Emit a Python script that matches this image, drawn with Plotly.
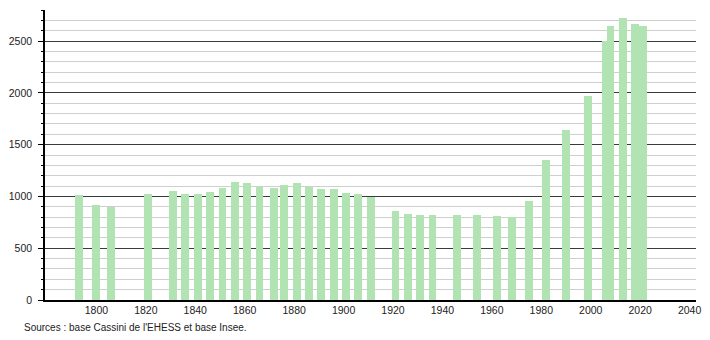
import plotly.graph_objects as go

years = [1793, 1800, 1806, 1821, 1831, 1836, 1841, 1846, 1851, 1856, 1861, 1866,
         1872, 1876, 1881, 1886, 1891, 1896, 1901, 1906, 1911, 1921, 1926, 1931,
         1936, 1946, 1954, 1962, 1968, 1975, 1982, 1990, 1999, 2006, 2008, 2013,
         2018, 2021]
population = [1010, 915, 900, 1019, 1051, 1022, 1026, 1039, 1078, 1136, 1133, 1094,
              1078, 1110, 1126, 1094, 1068, 1068, 1029, 1019, 990, 864, 835, 816,
              825, 825, 825, 809, 806, 954, 1352, 1641, 1971, 2500, 2648, 2718,
              2662, 2650]
x_ticks = [1800, 1820, 1840, 1860, 1880, 1900, 1920, 1940, 1960, 1980, 2000, 2020, 2040]
y_ticks = [0, 500, 1000, 1500, 2000, 2500]
source_text = "Sources : base Cassini de l'EHESS et base Insee."

FONT = "Liberation Sans, Arial, sans-serif"

fig = go.Figure()
fig.add_trace(go.Bar(
    x=years, y=population, width=3.2,
    marker=dict(color="rgb(178,227,178)", line=dict(width=0)),
    hoverinfo="x+y",
))

fig.update_layout(
    width=710, height=340,
    margin=dict(l=43, r=9, t=10, b=40),
    paper_bgcolor="white", plot_bgcolor="white",
    showlegend=False,
    font=dict(family=FONT, size=10, color="#222"),
    xaxis=dict(
        range=[1779.2, 2042.6],
        tickvals=x_ticks, ticktext=[str(v) for v in x_ticks],
        showgrid=False, zeroline=False,
        showline=True, linecolor="black", linewidth=1.5,
        ticks="", tickfont=dict(family=FONT, size=10.5, color="#222"),
    ),
    yaxis=dict(
        range=[0, 2800],
        tickvals=y_ticks, ticktext=[str(v) for v in y_ticks],
        showgrid=True, gridcolor="#3a3a3a", gridwidth=1,
        zeroline=False,
        showline=True, linecolor="black", linewidth=1.5,
        ticks="outside", ticklen=5, tickcolor="black", tickwidth=1,
        ticklabelstandoff=4,
        tickfont=dict(family=FONT, size=10.5, color="#222"),
        minor=dict(dtick=100, tick0=0, showgrid=True, gridcolor="#cfcfcf",
                   gridwidth=1, ticks="outside", ticklen=2, tickcolor="black"),
    ),
    bargap=0,
)

fig.add_annotation(
    text=source_text, xref="paper", yref="paper",
    x=(20 - 43) / 658, y=-27 / 290, xanchor="left", yanchor="middle",
    showarrow=False, font=dict(family=FONT, size=10, color="#222"),
)

fig.write_html("out.html")
